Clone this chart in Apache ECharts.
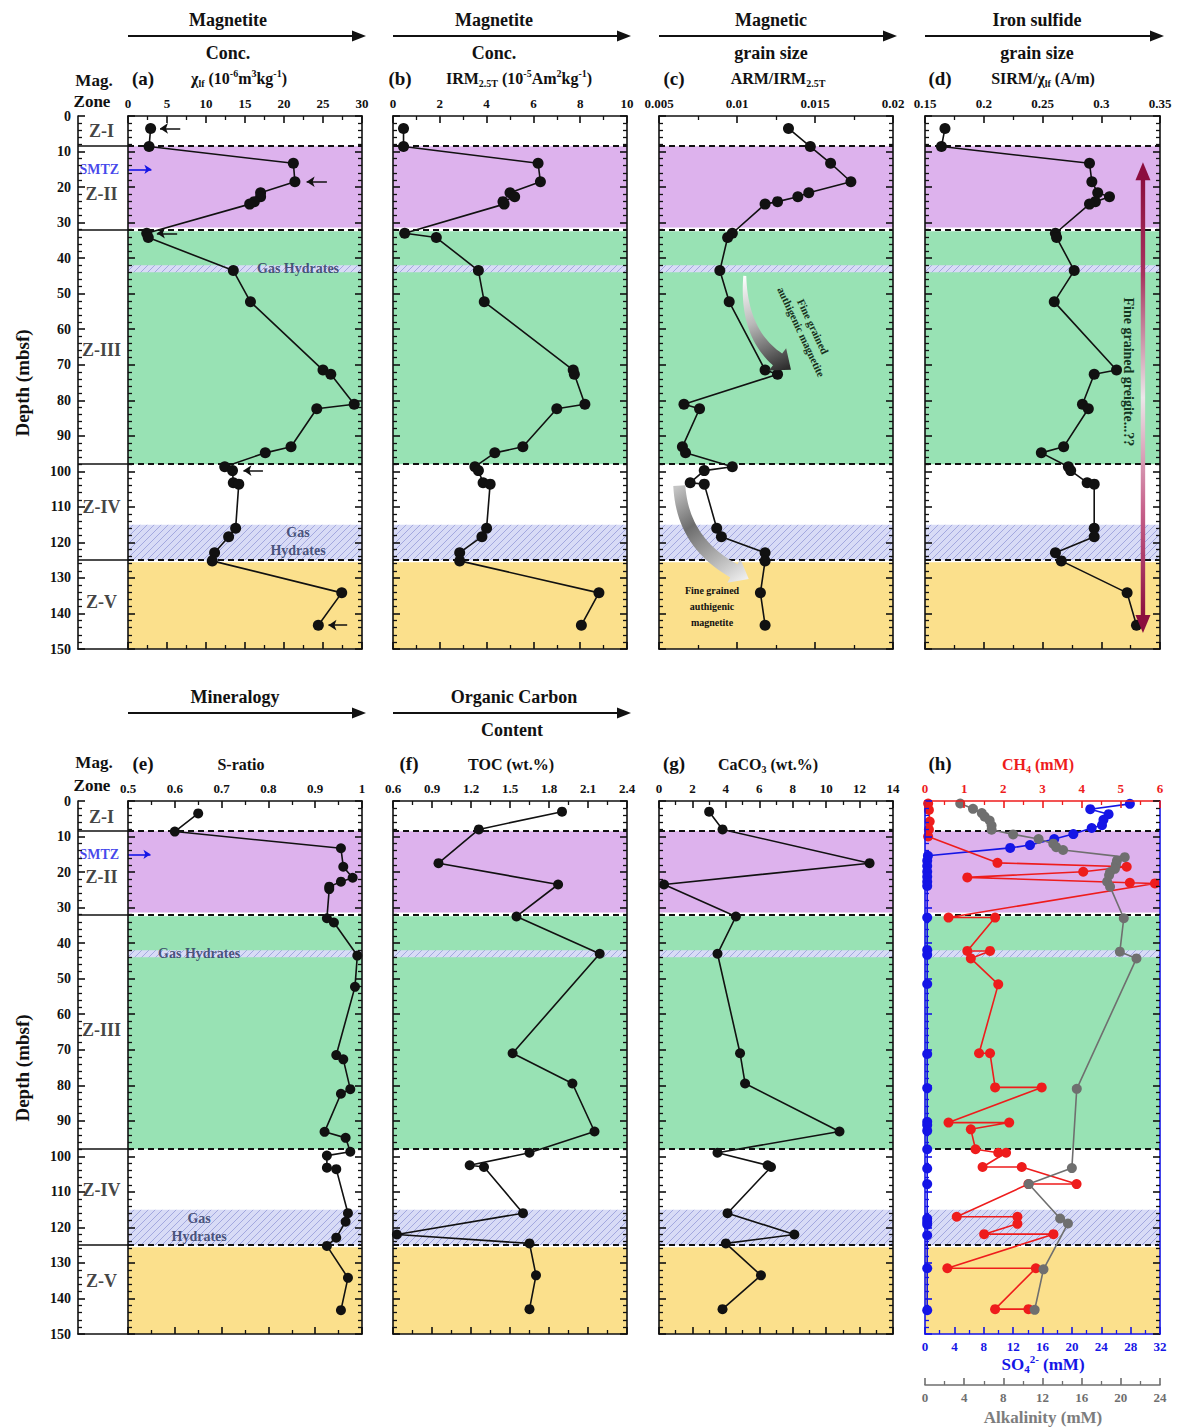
<!DOCTYPE html>
<html>
<head>
<meta charset="utf-8">
<script src="https://cdn.jsdelivr.net/npm/echarts@6/dist/echarts.min.js"></script>
<style>
  html, body { margin: 0; padding: 0; background: #fff; }
  #chart { width: 1185px; height: 1428px; }
</style>
</head>
<body>
<div id="chart"></div>
<script>
// ---------------- data (depth in mbsf) ----------------
// magnetic samples, panels a-e
const magDepth = [3.5, 8.6, 13.3, 18.5, 21.6, 22.7, 24.1, 24.8, 33.0, 34.2, 43.5, 52.3, 71.5, 72.7, 81.1, 82.4, 93.1, 94.8, 98.7, 99.8, 103.2, 103.6, 116.0, 118.4, 122.9, 125.2, 134.2, 143.3];
const chiLf   = [2.9, 2.7, 21.2, 21.4, 17.0, 17.0, 16.2, 15.6, 2.4, 2.6, 13.5, 15.7, 25.0, 26.0, 29.0, 24.2, 20.9, 17.6, 12.4, 13.4, 13.5, 14.2, 13.8, 12.9, 11.1, 10.8, 27.4, 24.4];
const irm     = [0.45, 0.45, 6.2, 6.3, 5.0, 5.2, 4.7, 4.75, 0.5, 1.85, 3.65, 3.9, 7.7, 7.75, 8.2, 7.0, 5.55, 4.35, 3.5, 3.65, 3.85, 4.15, 4.0, 3.8, 2.85, 2.85, 8.8, 8.05];
const armIrm  = [0.0133, 0.0147, 0.0160, 0.0173, 0.0146, 0.0139, 0.0126, 0.0118, 0.0097, 0.0094, 0.0089, 0.0095, 0.0118, 0.0126, 0.0066, 0.0076, 0.0065, 0.0067, 0.0097, 0.0079, 0.0070, 0.0079, 0.0087, 0.0090, 0.0118, 0.0118, 0.0115, 0.0118];
const sirmChi = [0.167, 0.164, 0.290, 0.292, 0.297, 0.307, 0.295, 0.290, 0.261, 0.262, 0.277, 0.260, 0.313, 0.294, 0.284, 0.289, 0.268, 0.249, 0.272, 0.274, 0.288, 0.294, 0.294, 0.294, 0.261, 0.266, 0.322, 0.330];
const sRatio  = [0.65, 0.60, 0.955, 0.96, 0.98, 0.955, 0.93, 0.93, 0.925, 0.94, 0.99, 0.985, 0.945, 0.96, 0.975, 0.955, 0.92, 0.965, 0.975, 0.925, 0.925, 0.945, 0.97, 0.965, 0.945, 0.925, 0.97, 0.955];

// geochemistry samples, panels f-g
const geoDepth = [3, 8, 17.5, 23.5, 32.5, 43, 71, 79.5, 93, 99, 102.5, 103, 116, 122, 124.5, 133.5, 143];
const toc      = [1.9, 1.26, 0.95, 1.87, 1.55, 2.19, 1.52, 1.98, 2.15, 1.65, 1.19, 1.3, 1.6, 0.63, 1.65, 1.7, 1.65];
const caco3    = [3.0, 3.8, 12.6, 0.3, 4.6, 3.5, 4.85, 5.15, 10.8, 3.5, 6.5, 6.7, 4.1, 8.1, 4.0, 6.1, 3.8];

// pore water, panel h
const so4Depth = [0.8, 2.3, 3.7, 5.3, 6.8, 7.6, 9.3, 10.7, 12.4, 13.2, 15.4, 16.8, 18.3, 19.9, 21.3, 22.7, 23.9, 32.8, 41.9, 43.3, 51.5, 71.2, 80.8, 90.3, 91.2, 92.8, 98, 103.4, 107.8, 117.5, 118.4, 119.2, 122.2, 131.5, 143.3];
const so4      = [27.9, 22.5, 25.0, 24.3, 24.1, 22.7, 20.2, 17.6, 14.3, 11.6, 0.4, 0.3, 0.3, 0.3, 0.3, 0.3, 0.3, 0.3, 0.3, 0.3, 0.3, 0.3, 0.3, 0.3, 0.3, 0.3, 0.3, 0.3, 0.3, 0.3, 0.3, 0.3, 0.3, 0.3, 0.3];
const ch4Depth = [0.7, 2.5, 5.8, 8.0, 10.0, 17.4, 18.5, 19.9, 21.5, 23.0, 23.2, 32.8, 32.8, 42.2, 42.2, 44.3, 51.6, 71.0, 71.0, 80.6, 80.6, 90.5, 90.5, 92.4, 98.0, 99.0, 99.0, 103.0, 103.0, 107.8, 107.8, 117.0, 117.0, 119.0, 121.9, 121.9, 131.5, 131.5, 143.0, 143.0];
const ch4      = [0.08, 0.1, 0.12, 0.1, 0.08, 1.85, 5.15, 4.04, 1.08, 5.23, 5.87, 0.6, 1.79, 1.08, 1.66, 1.17, 1.87, 1.38, 1.66, 1.79, 2.98, 0.6, 2.15, 1.17, 1.29, 1.87, 2.07, 1.47, 2.47, 3.87, 2.64, 0.81, 2.36, 2.36, 1.51, 3.28, 0.57, 2.83, 1.79, 2.64];
const alkDepth = [0.7, 2.2, 3.4, 4.4, 5.5, 6.9, 8.1, 9.4, 10.7, 12.0, 13.0, 13.8, 15.8, 16.8, 17.9, 19.1, 20.0, 20.9, 22.7, 24.1, 33.0, 42.4, 44.3, 81.0, 103.3, 107.8, 117.5, 118.9, 131.8, 143.2];
const alk      = [3.6, 4.9, 5.8, 6.1, 6.6, 6.8, 6.8, 9.0, 11.6, 13.1, 13.4, 14.1, 20.4, 19.6, 19.5, 19.4, 18.9, 18.8, 18.6, 18.9, 20.3, 19.9, 21.6, 15.5, 15.0, 10.6, 13.8, 14.6, 12.1, 11.2];

// zones
const zoneNames = ['Z-I', 'Z-II', 'Z-III', 'Z-IV', 'Z-V'];
const zoneLabelDepth = [[4.2, 22, 65.9, 110, 136.8], [4.5, 21.4, 64.5, 109.5, 135]];
const zoneBounds = [8.5, 32, 98, 125];
const smtzDepth = 15;
const bands = [[8.5, 31.4, 'Z-II'], [32.4, 98, 'Z-III'], [42, 44, 'hydrate'], [115, 125, 'hydrate'], [125.6, 150, 'Z-V']];
// arrows in panel (a): [depth, from, to]
const chiArrows = [[3.5, 6.7, 4.1], [18.5, 25.5, 22.9], [33.0, 6.3, 3.7], [99.8, 17.3, 14.8], [143.3, 28.1, 25.7]];

// axis ranges / tick steps
const scChi  = {min: 0, max: 30, step: 5};
const scIrm  = {min: 0, max: 10, step: 2};
const scArm  = {min: 0.005, max: 0.02, step: 0.005};
const scSirm = {min: 0.15, max: 0.35, step: 0.05};
const scSr   = {min: 0.5, max: 1, step: 0.1};
const scToc  = {min: 0.6, max: 2.4, step: 0.3};
const scCa   = {min: 0, max: 14, step: 2};
const scCh4  = {min: 0, max: 6, step: 1};
const scSo4  = {min: 0, max: 32, step: 4};
const scAlk  = {min: 0, max: 24, step: 4};

// ---------------- layout / style ----------------
const FONT = '"Liberation Serif", "DejaVu Serif", serif';
const INK = '#111';
const RED = '#ee1c1c', BLUE = '#1515e6', GRAY = '#6f6f6f';
const HYD = '#26305c';
const ROW_TOP = [116, 801], ROW_H = 533;
const COL_LEFT = [128, 393, 659, 925], COL_W = [234, 234, 234, 235];
const ZONE_LEFT = 78, ZONE_W = 50;

function hatch() {
  const c = document.createElement('canvas');
  c.width = 7; c.height = 7;
  const ctx = c.getContext('2d');
  ctx.fillStyle = '#d8dbf6';
  ctx.fillRect(0, 0, 7, 7);
  ctx.strokeStyle = '#a3a8df';
  ctx.lineWidth = 1;
  ctx.beginPath();
  ctx.moveTo(-1, 8); ctx.lineTo(8, -1);
  ctx.moveTo(-1, 1); ctx.lineTo(1, -1);
  ctx.moveTo(6, 8); ctx.lineTo(8, 6);
  ctx.stroke();
  return {image: c.toDataURL(), repeat: 'repeat', imageWidth: 7, imageHeight: 7};
}
const bandFill = {'Z-II': '#ddb2ed', 'Z-III': '#98e2b4', 'Z-V': '#fbe08c', 'hydrate': hatch()};

const grid = [], xAxis = [], yAxis = [], series = [];

function addGrid(left, top, width) {
  grid.push({left: left, top: top, width: width, height: ROW_H, containLabel: false, outerBoundsMode: 'none'});
  return grid.length - 1;
}

function xAx(g, pos, sc, lineColor, tickColor, showLabel) {
  return {
    gridIndex: g, type: 'value', position: pos, min: sc.min, max: sc.max, interval: sc.step, z: 10,
    axisLine: {show: true, onZero: false, lineStyle: {color: lineColor, width: 1.6}},
    axisTick: {show: true, inside: true, length: 7, lineStyle: {color: tickColor, width: 1.6}},
    minorTick: {show: true, splitNumber: 2, length: 4, lineStyle: {color: tickColor, width: 1.3}},
    splitLine: {show: false},
    axisLabel: {show: showLabel, margin: 6, color: tickColor, fontFamily: FONT, fontWeight: 'bold', fontSize: 13}
  };
}

function yAx(g, pos, lineColor, tickColor, showLabel) {
  return {
    gridIndex: g, type: 'value', position: pos, inverse: true, min: 0, max: 150, interval: 10, z: 10,
    axisLine: {show: true, onZero: false, lineStyle: {color: lineColor, width: 1.6}},
    axisTick: {show: true, inside: true, length: 7, lineStyle: {color: tickColor, width: 1.6}},
    minorTick: {show: true, splitNumber: 5, length: 4, lineStyle: {color: tickColor, width: 1.3}},
    splitLine: {show: false},
    axisLabel: {show: showLabel, margin: 7, color: INK, fontFamily: FONT, fontWeight: 'bold', fontSize: 14}
  };
}

function textSeries(xi, yi, data, size, color, align) {
  return {
    type: 'scatter', xAxisIndex: xi, yAxisIndex: yi, symbolSize: 1, silent: true, z: 6,
    itemStyle: {color: 'rgba(0,0,0,0)'},
    data: data,
    label: {show: true, position: align === 'left' ? 'right' : 'inside', distance: 0, formatter: p => p.value[2],
      color: color, fontFamily: FONT, fontWeight: 'bold', fontSize: size}
  };
}

function dotLine(xi, yi, xs, ys, color, size, z) {
  return {
    type: 'line', xAxisIndex: xi, yAxisIndex: yi, data: ys.map((d, i) => [xs[i], d]),
    symbol: 'circle', symbolSize: size, showAllSymbol: true, silent: true, clip: false, z: z || 5,
    itemStyle: {color: color}, lineStyle: {color: color, width: 1.6}
  };
}

function addZoneGrid(row) {
  const g = addGrid(ZONE_LEFT, ROW_TOP[row], ZONE_W);
  xAxis.push({gridIndex: g, type: 'value', position: 'top', min: 0, max: 1, show: false});
  xAxis.push({gridIndex: g, type: 'value', position: 'bottom', min: 0, max: 1, z: 10,
    axisLine: {show: true, onZero: false, lineStyle: {color: INK, width: 1.6}},
    axisTick: {show: false}, axisLabel: {show: false}, splitLine: {show: false}});
  yAxis.push(yAx(g, 'left', INK, INK, true));
  yAxis.push({gridIndex: g, type: 'value', position: 'right', inverse: true, min: 0, max: 150, show: false});
  const zs = textSeries(2 * g + 1, 2 * g, zoneNames.map((n, i) => [0.47, zoneLabelDepth[row][i], n]), 18, INK);
  zs.markLine = {silent: true, symbol: 'none', label: {show: false},
    lineStyle: {color: INK, type: 'solid', width: 1.6}, data: zoneBounds.map(d => ({yAxis: d}))};
  series.push(zs);
  series.push(textSeries(2 * g + 1, 2 * g, [[0.02, smtzDepth, 'SMTZ']], 14, BLUE, 'left'));
  return g;
}

function addPanel(row, col, sc, opt) {
  opt = opt || {};
  const g = addGrid(COL_LEFT[col], ROW_TOP[row], COL_W[col]);
  const top = opt.topColor || INK;
  xAxis.push(xAx(g, 'top', sc, top, top, true));
  xAxis.push(xAx(g, 'bottom', opt.bottomScale || sc, opt.bottomColor || INK, opt.bottomColor || INK, !!opt.bottomScale));
  yAxis.push(yAx(g, 'left', opt.sideColor || INK, opt.sideColor || INK, false));
  yAxis.push(yAx(g, 'right', opt.sideColor || INK, INK, false));
  const xi = 2 * g, yi = 2 * g;
  series.push({type: 'line', xAxisIndex: xi, yAxisIndex: yi, data: [], silent: true, z: 1,
    markArea: {silent: true, data: bands.map(b => [{yAxis: b[0], itemStyle: {color: bandFill[b[2]]}}, {yAxis: b[1]}])}});
  series.push({type: 'line', xAxisIndex: xi, yAxisIndex: yi, data: [], silent: true, z: 2,
    markLine: {silent: true, symbol: 'none', label: {show: false},
      lineStyle: {color: INK, type: [6, 4], width: 1.8}, data: zoneBounds.map(d => ({yAxis: d}))}});
  return g;
}

// ---------- row 1 ----------
addZoneGrid(0);
const gA = addPanel(0, 0, scChi);
const serA = dotLine(2 * gA, 2 * gA, chiLf, magDepth, INK, 11);
serA.markLine = {silent: true, symbol: ['none', 'arrow'], symbolSize: 8, label: {show: false},
  lineStyle: {color: INK, type: 'solid', width: 1.5},
  data: chiArrows.map(a => [{coord: [a[1], a[0]]}, {coord: [a[2], a[0]]}])};
series.push(serA);
series.push({type: 'line', xAxisIndex: 2 * gA, yAxisIndex: 2 * gA, data: [], silent: true, z: 6,
  markLine: {silent: true, symbol: ['none', 'arrow'], symbolSize: 7, label: {show: false},
    lineStyle: {color: BLUE, type: 'solid', width: 1.6},
    data: [[{coord: [0, smtzDepth]}, {coord: [3, smtzDepth]}]]}});
series.push(textSeries(2 * gA, 2 * gA, [[21.8, 43, 'Gas Hydrates'], [21.8, 117.2, 'Gas'], [21.8, 122.4, 'Hydrates']], 14, HYD));

const gB = addPanel(0, 1, scIrm);
series.push(dotLine(2 * gB, 2 * gB, irm, magDepth, INK, 11));
const gC = addPanel(0, 2, scArm);
series.push(dotLine(2 * gC, 2 * gC, armIrm, magDepth, INK, 11));
const gD = addPanel(0, 3, scSirm);
series.push(dotLine(2 * gD, 2 * gD, sirmChi, magDepth, INK, 11));

// ---------- row 2 ----------
addZoneGrid(1);
const gE = addPanel(1, 0, scSr);
series.push(dotLine(2 * gE, 2 * gE, sRatio, magDepth, INK, 10));
series.push({type: 'line', xAxisIndex: 2 * gE, yAxisIndex: 2 * gE, data: [], silent: true, z: 6,
  markLine: {silent: true, symbol: ['none', 'arrow'], symbolSize: 7, label: {show: false},
    lineStyle: {color: BLUE, type: 'solid', width: 1.6},
    data: [[{coord: [0.5, smtzDepth]}, {coord: [0.548, smtzDepth]}]]}});
series.push(textSeries(2 * gE, 2 * gE, [[0.652, 43, 'Gas Hydrates'], [0.652, 117.4, 'Gas'], [0.652, 122.6, 'Hydrates']], 14, HYD));
const gF = addPanel(1, 1, scToc);
series.push(dotLine(2 * gF, 2 * gF, toc, geoDepth, INK, 10));
const gG = addPanel(1, 2, scCa);
series.push(dotLine(2 * gG, 2 * gG, caco3, geoDepth, INK, 10));
const gH = addPanel(1, 3, scCh4, {topColor: RED, bottomScale: scSo4, bottomColor: BLUE, sideColor: BLUE});
const alkAxis = xAxis.length;
xAxis.push(Object.assign(xAx(gH, 'bottom', scAlk, GRAY, GRAY, true), {offset: 51}));
series.push(dotLine(2 * gH + 1, 2 * gH, so4, so4Depth, BLUE, 10, 5));
series.push(dotLine(2 * gH, 2 * gH, ch4, ch4Depth, RED, 10, 6));
series.push(dotLine(alkAxis, 2 * gH, alk, alkDepth, GRAY, 10, 7));

const chart = echarts.init(document.getElementById('chart'), null, {renderer: 'svg'});
chart.setOption({
  animation: false,
  backgroundColor: '#fff',
  textStyle: {fontFamily: FONT},
  grid: grid, xAxis: xAxis, yAxis: yAxis, series: series
});

// ---------------- text, headers and annotations ----------------
function R(size, color) {
  const s = Math.round(size * 0.62);
  return {
    t: {fontSize: size, fontWeight: 'bold', fontFamily: FONT, fill: color, lineHeight: size + 4, verticalAlign: 'middle'},
    s: {fontSize: s, fontWeight: 'bold', fontFamily: FONT, fill: color, lineHeight: s, verticalAlign: 'bottom'},
    p: {fontSize: s, fontWeight: 'bold', fontFamily: FONT, fill: color, lineHeight: s, verticalAlign: 'top'}
  };
}
function T(x, y, text, size, color, extra) {
  return Object.assign({type: 'text', x: x, y: y, silent: true, z: 100,
    style: {text: text, fill: color || INK, font: 'bold ' + size + 'px ' + FONT, align: 'center', verticalAlign: 'middle'}}, extra || {});
}
function RT(x, y, text, size, color) {
  return {type: 'text', x: x, y: y, silent: true, z: 100,
    style: {text: text, rich: R(size, color || INK), align: 'center', verticalAlign: 'middle'}};
}
function hArrow(x1, x2, y) {
  return [
    {type: 'line', silent: true, z: 100, shape: {x1: x1, y1: y, x2: x2 - 8, y2: y}, style: {stroke: INK, lineWidth: 2.2}},
    {type: 'polygon', silent: true, z: 100, shape: {points: [[x2, y], [x2 - 14, y - 5.5], [x2 - 14, y + 5.5]]}, style: {fill: INK}}
  ];
}

const gfx = [];
// row 1 headers
const head1 = [['Magnetite', 'Conc.', 228], ['Magnetite', 'Conc.', 494], ['Magnetic', 'grain size', 771], ['Iron sulfide', 'grain size', 1037]];
head1.forEach((h, i) => {
  gfx.push(T(h[2], 20, h[0], 18));
  gfx.push(T(h[2], 53, h[1], 18));
  gfx.push(...hArrow(COL_LEFT[i], COL_LEFT[i] + COL_W[i] + 4, 36));
});
gfx.push(T(94, 80, 'Mag.', 17), T(92, 101, 'Zone', 17));
gfx.push(T(143, 78, '(a)', 19), T(400, 78, '(b)', 19), T(674, 78, '(c)', 19), T(940, 78, '(d)', 19));
gfx.push(RT(239, 78, '{t|χ}{s|lf}{t| (10}{p|-6}{t|m}{p|3}{t|kg}{p|-1}{t|)}', 16));
gfx.push(RT(519, 78, '{t|IRM}{s|2.5T}{t| (10}{p|-5}{t|Am}{p|2}{t|kg}{p|-1}{t|)}', 16));
gfx.push(RT(778, 78, '{t|ARM/IRM}{s|2.5T}', 16));
gfx.push(RT(1043, 78, '{t|SIRM/χ}{s|lf}{t| (A/m)}', 16));
// row 2 headers
gfx.push(T(235, 697, 'Mineralogy', 18), ...hArrow(128, 366, 713));
gfx.push(T(514, 697, 'Organic Carbon', 18), T(512, 730, 'Content', 18), ...hArrow(393, 631, 713));
gfx.push(T(94, 762, 'Mag.', 17), T(92, 785, 'Zone', 17));
gfx.push(T(143, 763, '(e)', 19), T(409, 763, '(f)', 19), T(674, 763, '(g)', 19), T(940, 763, '(h)', 19));
gfx.push(RT(241, 764, '{t|S-ratio}', 16));
gfx.push(RT(511, 764, '{t|TOC (wt.%)}', 16));
gfx.push(RT(768, 764, '{t|CaCO}{s|3}{t| (wt.%)}', 16));
gfx.push(RT(1038, 764, '{t|CH}{s|4}{t| (mM)}', 16, RED));
gfx.push(RT(1043, 1364, '{t|SO}{s|4}{p|2-}{t| (mM)}', 17, BLUE));
gfx.push(T(1043, 1417, 'Alkalinity (mM)', 17, '#7d7d7d'));
gfx.push(T(22, 383, 'Depth (mbsf)', 19, INK, {rotation: Math.PI / 2}));
gfx.push(T(22, 1068, 'Depth (mbsf)', 19, INK, {rotation: Math.PI / 2}));

// annotations in data coordinates
function px(g, x, y) { return chart.convertToPixel({xAxisIndex: 2 * g, yAxisIndex: 2 * g}, [x, y]); }
function curvedArrow(p0, p1, p2, w0, w1, headW, headL, fill) {
  const left = [], right = [], N = 24;
  const B = t => [(1 - t) * (1 - t) * p0[0] + 2 * (1 - t) * t * p1[0] + t * t * p2[0],
                  (1 - t) * (1 - t) * p0[1] + 2 * (1 - t) * t * p1[1] + t * t * p2[1]];
  const D = t => [2 * (1 - t) * (p1[0] - p0[0]) + 2 * t * (p2[0] - p1[0]),
                  2 * (1 - t) * (p1[1] - p0[1]) + 2 * t * (p2[1] - p1[1])];
  let tn, nn;
  for (let i = 0; i <= N; i++) {
    const t = i / N, p = B(t), d = D(t), L = Math.hypot(d[0], d[1]);
    tn = [d[0] / L, d[1] / L]; nn = [-tn[1], tn[0]];
    const w = (w0 + (w1 - w0) * t) / 2;
    left.push([p[0] + nn[0] * w, p[1] + nn[1] * w]);
    right.push([p[0] - nn[0] * w, p[1] - nn[1] * w]);
  }
  const tip = [p2[0] + tn[0] * headL, p2[1] + tn[1] * headL];
  const hl = [p2[0] + nn[0] * headW / 2, p2[1] + nn[1] * headW / 2];
  const hr = [p2[0] - nn[0] * headW / 2, p2[1] - nn[1] * headW / 2];
  return {type: 'polygon', silent: true, z: 50, shape: {points: left.concat([hl, tip, hr], right.reverse())}, style: {fill: fill}};
}
const c0 = px(gC, 0.0105, 45), c1 = px(gC, 0.0104, 61), c2 = px(gC, 0.0126, 68.5);
gfx.push(curvedArrow(c0, c1, c2, 3, 15, 28, 17, {type: 'linear', global: true, x: c0[0], y: c0[1], x2: c2[0] + 10, y2: c2[1] + 10,
  colorStops: [{offset: 0, color: '#ffffff'}, {offset: 0.45, color: '#b9b9b9'}, {offset: 1, color: '#2a2a2a'}]}));
const d0 = px(gC, 0.0063, 104), d1 = px(gC, 0.0065, 120), d2 = px(gC, 0.0098, 128);
gfx.push(curvedArrow(d0, d1, d2, 12, 15, 27, 17, {type: 'linear', global: true, x: d0[0], y: d0[1], x2: d2[0] + 12, y2: d2[1] + 8,
  colorStops: [{offset: 0, color: '#c4c4c4'}, {offset: 0.35, color: '#6d6d6d'}, {offset: 1, color: '#eeeeee'}]}));
const ct = px(gC, 0.0145, 60);
gfx.push({type: 'text', x: ct[0], y: ct[1], rotation: -65 * Math.PI / 180, silent: true, z: 60,
  style: {text: 'Fine grained\nauthigenic magnetite', fill: '#17301c', font: 'bold 11px ' + FONT, align: 'center', verticalAlign: 'middle', lineHeight: 13}});
const cb = px(gC, 0.0084, 138);
gfx.push({type: 'text', x: cb[0], y: cb[1], silent: true, z: 60,
  style: {text: 'Fine grained\nauthigenic\nmagnetite', fill: INK, font: 'bold 10px ' + FONT, align: 'center', verticalAlign: 'middle', lineHeight: 16}});

const aTop = px(gD, 0.3355, 13), aBot = px(gD, 0.3355, 145.5);
const ax = aTop[0], headL = 18, headW = 15;
gfx.push({type: 'rect', silent: true, z: 50, shape: {x: ax - 2.2, y: aTop[1] + headL - 2, width: 4.4, height: aBot[1] - aTop[1] - 2 * headL + 4},
  style: {fill: {type: 'linear', x: 0, y: 0, x2: 0, y2: 1, colorStops: [
    {offset: 0, color: '#8c0d3e'}, {offset: 0.22, color: '#a8345f'}, {offset: 0.5, color: '#ece6e9'},
    {offset: 0.75, color: '#c8648d'}, {offset: 1, color: '#8c0d3e'}]}}});
gfx.push({type: 'polygon', silent: true, z: 50, shape: {points: [[ax, aTop[1]], [ax - headW / 2, aTop[1] + headL], [ax + headW / 2, aTop[1] + headL]]}, style: {fill: '#8c0d3e'}});
gfx.push({type: 'polygon', silent: true, z: 50, shape: {points: [[ax, aBot[1]], [ax - headW / 2, aBot[1] - headL], [ax + headW / 2, aBot[1] - headL]]}, style: {fill: '#8c0d3e'}});
const dt = px(gD, 0.3228, 72);
gfx.push({type: 'text', x: dt[0], y: dt[1], rotation: -Math.PI / 2, silent: true, z: 60,
  style: {text: 'Fine grained greigite...??', fill: '#14351f', font: 'bold 14px ' + FONT, align: 'center', verticalAlign: 'middle'}});

chart.setOption({graphic: {elements: gfx}});
</script>
</body>
</html>
